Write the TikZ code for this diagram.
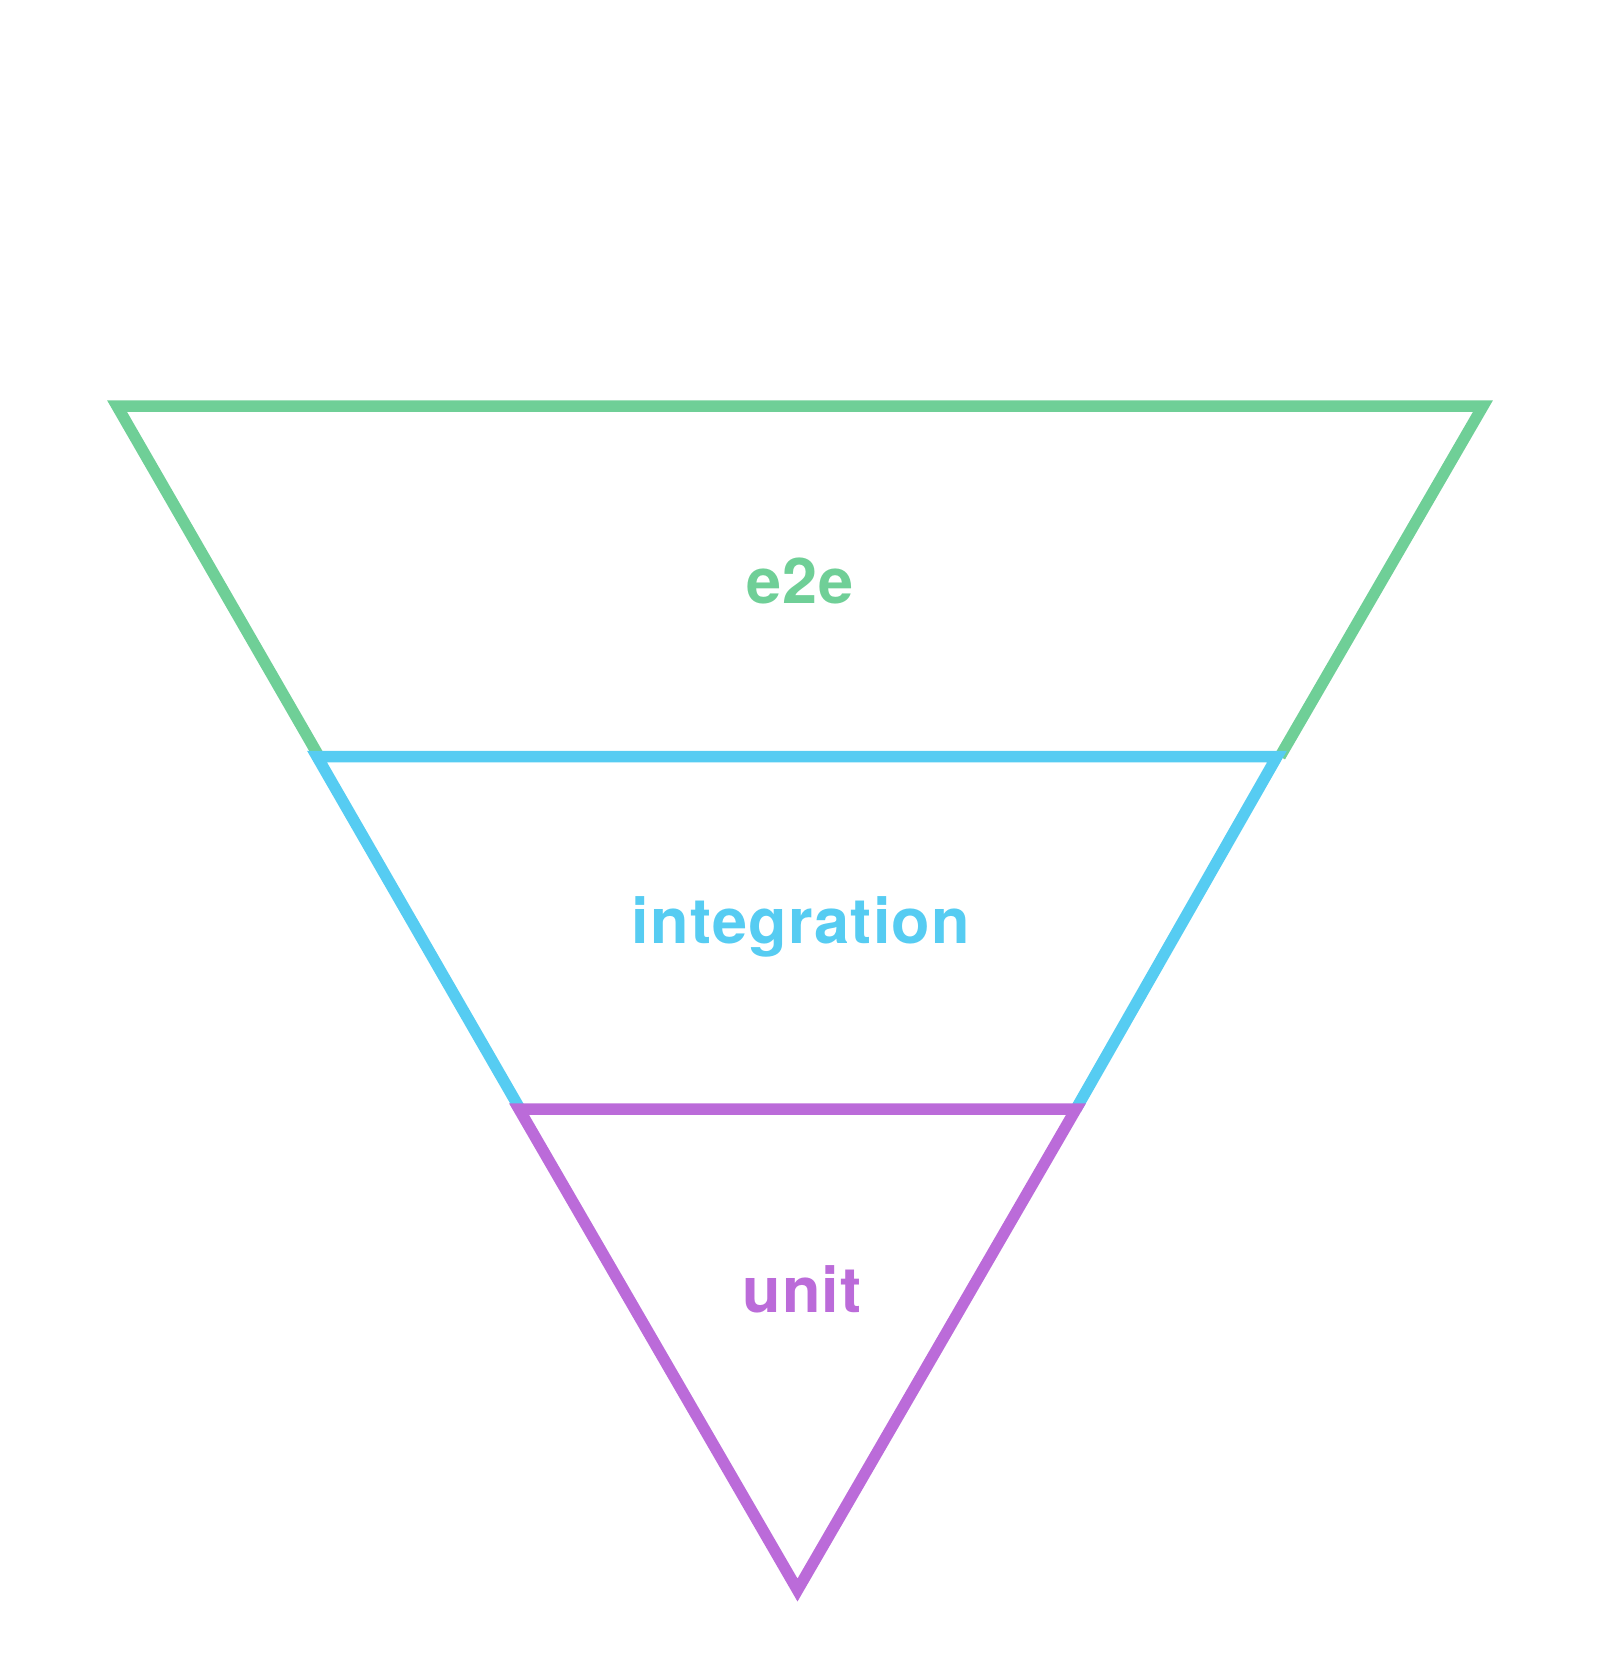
\documentclass[tikz,border=0pt]{standalone}
\usepackage{fontspec}
\setmainfont{TeX Gyre Heros}[LetterSpace=2]
\begin{document}
\begin{tikzpicture}[x=0.5pt,y=-0.5pt,
  layer/.style={line width=5.75pt,line join=miter,miter limit=10},
  lbl/.style={font=\fontsize{31.5}{35}\selectfont\bfseries,anchor=base,inner sep=0pt}]
\definecolor{tgreen}{HTML}{6FCF97}
\definecolor{tblue}{HTML}{56CCF2}
\definecolor{tpurple}{HTML}{BB6BD9}
\useasboundingbox (0,0) rectangle (1600,1656);
% funnel corners
\coordinate (gTL) at (117,406);
\coordinate (gTR) at (1483,406);
\coordinate (gBL) at (319,756.5);
\coordinate (gBR) at (1280,756.5);
\coordinate (bTL) at (317,756.5);
\coordinate (bTR) at (1277,756.5);
\coordinate (bBL) at (520,1109);
\coordinate (bBR) at (1076,1109);
\coordinate (pTL) at (519,1109);
\coordinate (pTR) at (1076,1109);
\coordinate (apex) at (797.5,1590);
% top band
\draw[layer,tgreen] (gBL) -- (gTL) -- (gTR) -- (gBR);
% middle band
\draw[layer,tblue] (bBL) -- (bTL) -- (bTR) -- (bBR);
% bottom tip
\draw[layer,tpurple] (pTL) -- (pTR) -- (apex) -- cycle;
% labels
\node[lbl,text=tgreen] (e2e) at (800,603) {e2e};
\node[lbl,text=tblue] (integration) at (801,943) {integration};
\node[lbl,text=tpurple] (unit) at (802,1312) {unit};
\end{tikzpicture}
\end{document}
